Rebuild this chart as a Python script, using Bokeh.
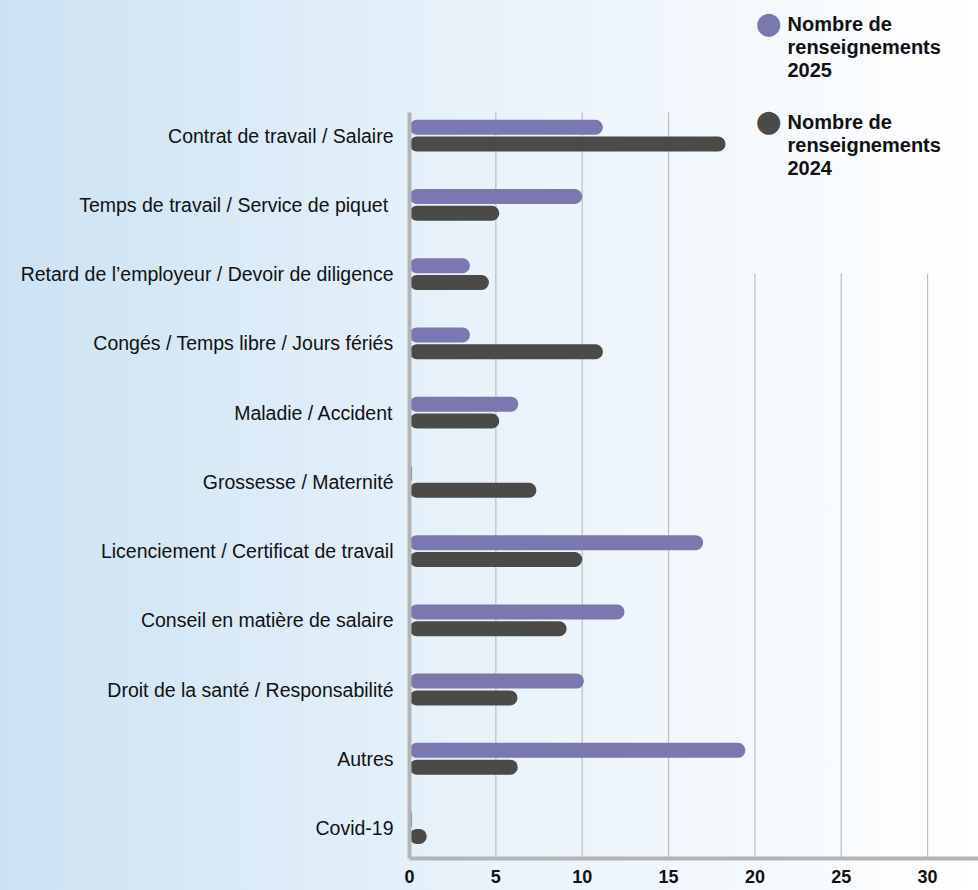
from bokeh.plotting import figure
from bokeh.models import Range1d, FixedTicker, Label, ColumnDataSource
from bokeh.transform import dodge
from bokeh.embed import file_html
from bokeh.resources import INLINE

# ---- data ----
categories = [
    "Contrat de travail / Salaire",
    "Temps  de travail / Service de piquet",
    "Retard de l’employeur / Devoir de diligence",
    "Congés / Temps libre / Jours fériés",
    "Maladie / Accident",
    "Grossesse / Maternité",
    "Licenciement / Certificat de travail",
    "Conseil en matière de salaire",
    "Droit de la santé / Responsabilité",
    "Autres",
    "Covid-19",
]
values_2025 = [11.2, 10.0, 3.5, 3.5, 6.3, 0.15, 17.0, 12.45, 10.1, 19.45, 0.15]
values_2024 = [18.3, 5.2, 4.6, 11.2, 5.2, 7.35, 10.0, 9.1, 6.25, 6.27, 1.0]
x_ticks = [0, 5, 10, 15, 20, 25, 30]
series_names = ["Nombre de\nrenseignements\n2025", "Nombre de\nrenseignements\n2024"]

# ---- style ----
C25 = "#7b77b1"
C24 = "#4a4a48"
AXIS_C = "#b4b4b4"
GRID_C = "#bdbdbd"
FONT = "Liberation Sans"

W, H = 978, 890
LEFT, BOTTOM = 409, 32
AXIS_TOP_PX = 112
px_per_unit = 17.27
row_px = 69.24
first_row_px = 135.1

frame_w = W - LEFT
frame_h = H - BOTTOM
x_end = frame_w / px_per_unit
y_top = -first_row_px / row_px
y_bottom = y_top + frame_h / row_px
y_axis_top = -(first_row_px - AXIS_TOP_PX) / row_px

p = figure(
    width=W, height=H, output_backend="svg", toolbar_location=None,
    x_range=Range1d(0, x_end), y_range=Range1d(y_bottom, y_top),
    min_border_left=LEFT, min_border_right=0, min_border_top=0,
    min_border_bottom=BOTTOM,
)
p.background_fill_alpha = 0
p.border_fill_alpha = 0
p.outline_line_color = None
p.styles = {
    "position": "absolute", "left": "0px", "top": "0px",
    "background": "linear-gradient(90deg, #cce2f3 0%, #e6f1fa 45%, #ffffff 100%)",
}
p.xgrid.visible = False
p.ygrid.visible = False

idx = list(range(len(categories)))
src = ColumnDataSource(dict(y=idx, v25=values_2025, v24=values_2024))

# grid lines (segments): the right-hand ones stop below the legend
grid_x = x_ticks[1:]
grid_top = [y_axis_top if t <= 15 else 1.99 for t in grid_x]
p.segment(x0=grid_x, x1=grid_x, y0=[y_bottom] * len(grid_x), y1=grid_top,
          line_color=GRID_C, line_width=1.2, level="underlay")

bar_h = 15 / row_px
off = 8.4 / row_px
p.hbar(y=dodge("y", -off), left=0, right="v25", height=bar_h, source=src,
       fill_color=C25, line_color=None, border_radius=8)
p.hbar(y=dodge("y", off), left=0, right="v24", height=bar_h, source=src,
       fill_color=C24, line_color=None, border_radius=8)

# axes
for ax in (p.xaxis[0], p.yaxis[0]):
    ax.axis_line_color = AXIS_C
    ax.axis_line_width = 4
    ax.major_tick_line_color = None
    ax.minor_tick_line_color = None
    ax.major_label_text_color = "#111111"

p.xaxis.ticker = FixedTicker(ticks=x_ticks)
p.xaxis.major_label_text_font = FONT
p.xaxis.major_label_text_font_size = "18px"
p.xaxis.major_label_text_font_style = "bold"
p.xaxis.major_label_standoff = 5

p.yaxis.ticker = FixedTicker(ticks=idx)
p.yaxis.bounds = (y_axis_top, y_bottom)
p.yaxis.major_label_overrides = {i: c for i, c in enumerate(categories)}
p.yaxis.major_label_text_font = FONT
p.yaxis.major_label_text_font_size = "19.5px"
p.yaxis.major_label_standoff = 10

# legend (screen units relative to frame)
leg_y = [H - BOTTOM - 24, H - BOTTOM - 122]
for name, col, yy in zip(series_names, [C25, C24], leg_y):
    p.add_layout(Label(x=768 - LEFT, y=yy + 2, x_units="screen", y_units="screen",
                       text="●", text_color=col, text_font="DejaVu Sans",
                       text_font_size="30px", text_align="center", text_baseline="middle"))
    p.add_layout(Label(x=787 - LEFT, y=yy + 12, x_units="screen", y_units="screen",
                       text=name, text_color="#111111", text_font=FONT,
                       text_font_size="20px", text_font_style="bold",
                       text_baseline="top", text_line_height=1.05))

open("out.html", "w").write(file_html(p, INLINE))
